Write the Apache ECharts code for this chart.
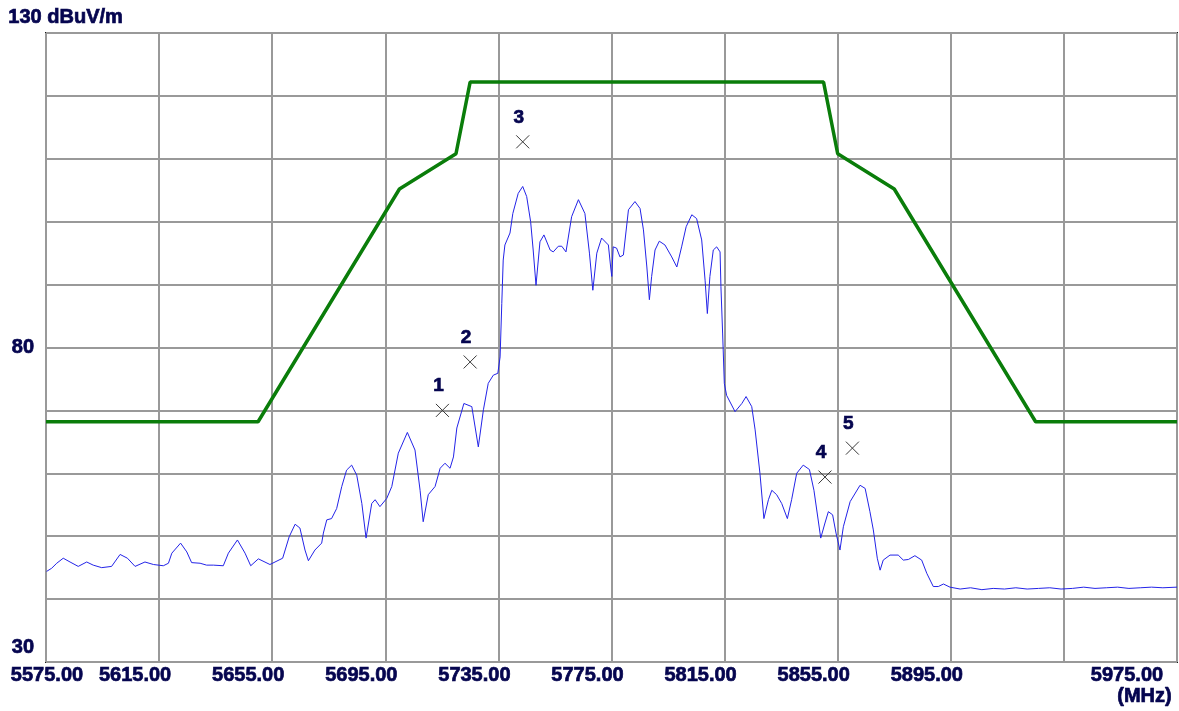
<!DOCTYPE html>
<html>
<head>
<meta charset="utf-8">
<script src="https://cdn.jsdelivr.net/npm/echarts@6/dist/echarts.min.js"></script>
<style>
html,body{margin:0;padding:0;background:#fff;}
#chart{width:1179px;height:711px;}
</style>
</head>
<body>
<div id="chart"></div>
<script>
// ---- data ----
var startMHz = 5575;
var endMHz = 5975;
var stepMHz = 40;
var yMin = 30, yMax = 130, yStep = 10;
var yTickLabels = [30, 80];
var yUnitLabel = '130 dBuV/m';
var xUnitLabel = '(MHz)';

var traceFreq = [5575.2,5577.0,5578.8,5581.1,5583.5,5586.4,5589.4,5591.7,5594.7,5598.2,5601.2,5603.8,5606.5,5610.0,5613.0,5616.5,5618.3,5619.5,5622.6,5624.8,5626.5,5629.5,5631.8,5634.2,5637.7,5639.5,5642.7,5645.4,5647.4,5650.1,5654.2,5656.0,5658.7,5661.0,5663.1,5664.8,5666.6,5667.8,5670.1,5672.5,5673.1,5674.3,5676.0,5677.8,5679.6,5681.3,5683.1,5684.9,5686.7,5688.2,5690.2,5691.4,5693.1,5695.5,5697.3,5699.6,5702.8,5705.5,5707.3,5708.4,5710.2,5712.6,5714.4,5716.1,5717.9,5719.1,5720.3,5722.8,5725.6,5727.9,5729.7,5731.4,5733.2,5734.8,5735.6,5736.2,5736.7,5737.3,5739.1,5740.1,5742.0,5743.6,5745.0,5746.4,5747.3,5748.3,5749.7,5751.1,5753.3,5754.4,5756.2,5757.4,5758.9,5760.9,5763.3,5765.6,5767.2,5768.4,5769.8,5771.5,5773.9,5774.7,5775.1,5775.6,5776.8,5778.0,5779.2,5781.0,5783.3,5785.1,5786.3,5787.5,5788.4,5789.2,5790.4,5791.9,5793.9,5796.3,5798.1,5799.8,5801.4,5803.4,5805.1,5806.9,5808.1,5808.9,5809.8,5811.0,5812.2,5813.4,5813.7,5814.3,5814.9,5815.7,5818.7,5821.1,5822.6,5824.6,5825.8,5827.5,5828.9,5830.5,5831.7,5833.4,5835.2,5837.2,5838.7,5840.5,5842.8,5845.0,5846.6,5849.0,5850.5,5851.7,5853.2,5854.4,5855.8,5857.0,5859.4,5862.9,5864.7,5866.4,5867.6,5868.6,5869.0,5870.0,5871.1,5873.5,5876.4,5878.2,5880.0,5882.3,5884.7,5886.5,5888.8,5890.6,5892.4,5894.7,5898.3,5902,5906,5910,5914,5918,5922,5926,5930,5934,5938,5942,5946,5950,5954,5958,5962,5966,5970,5975];
var traceLevel = [44.4,44.9,45.7,46.5,45.9,45.2,45.9,45.4,45.0,45.2,47.1,46.5,45.2,45.9,45.5,45.3,45.7,47.3,48.9,47.5,45.8,45.7,45.4,45.4,45.3,47.3,49.4,47.3,45.3,46.4,45.5,45.9,46.5,49.9,51.9,51.3,47.8,46.1,47.8,48.9,50.5,52.6,52.8,54.4,57.9,60.5,61.3,59.7,55.2,49.7,55.2,55.8,54.7,56.0,57.9,63.2,66.5,63.7,57.3,52.3,56.6,57.9,60.8,61.6,60.8,62.6,67.2,71.1,70.6,64.2,70.1,74.3,75.6,75.9,78.5,87.0,93.9,96.3,98.2,101.3,104.5,105.6,104.0,100.0,95.5,89.9,96.8,97.9,95.5,95.2,96.1,96.1,95.2,100.8,103.5,101.3,95.0,89.1,95.0,97.4,96.3,92.8,91.3,96.0,95.8,94.4,94.7,101.9,103.2,102.1,98.7,92.8,87.6,91.3,95.5,96.9,96.3,94.4,92.8,96.0,99.2,101.1,100.5,97.1,90.7,85.4,91.3,95.5,96.0,95.2,89.7,82.3,74.3,72.4,69.8,71.1,72.2,70.6,66.9,60.0,52.8,55.8,57.3,56.6,55.2,52.8,55.8,60.0,61.3,60.6,57.3,49.7,52.1,53.9,53.4,50.5,47.8,51.5,55.5,58.1,57.6,53.9,51.0,47.8,46.5,44.6,46.2,47.0,47.0,46.2,46.3,46.9,46.2,44.1,42.0,42.0,42.4,41.9,41.6,41.8,41.5,41.7,41.6,41.8,41.6,41.7,41.8,41.6,41.7,41.9,41.7,41.8,41.9,41.7,41.8,41.9,41.8,41.9];

var limitFreq = [5575,5650,5700,5720,5725,5850,5855,5875,5925,5975];
var limitLevel = [68.2,68.2,105.2,110.8,122.2,122.2,110.8,105.2,68.2,68.2];

var markerNames = ['1','2','3','4','5'];
var markerFreq = [5715.2,5725.0,5743.6,5850.5,5860.2];
var markerLevel = [70.0,77.7,112.7,59.4,64.0];

// ---- build ----
function pairs(fs, vs){ return fs.map(function(f,i){ return [f - startMHz, vs[i]]; }); }
var navy = '#05054f';
var fontFam = '"Liberation Sans", Arial, sans-serif';
function txt(size, extra){
  var o = {color: navy, fontFamily: fontFam, fontWeight: 'bold', fontSize: size, textBorderColor: navy, textBorderWidth: 0.7};
  if (extra) for (var k in extra) o[k] = extra[k];
  return o;
}

var chart = echarts.init(document.getElementById('chart'), null, {renderer:'canvas'});
chart.setOption({
  animation: false,
  backgroundColor: '#fff',
  grid: {left: 46, right: 2, top: 33, bottom: 49, show: true, borderColor: '#1a1a1a', borderWidth: 2, containLabel: false, outerBoundsMode: 'none'},
  xAxis: {
    type: 'value', min: 0, max: endMHz - startMHz, interval: stepMHz,
    axisLine: {show: false}, axisTick: {show: false},
    splitLine: {show: true, lineStyle: {color: '#999', width: 2}},
    axisLabel: Object.assign(txt(20), {
      interval: 0, margin: 3, hideOverlap: false, showMinLabel: true, showMaxLabel: true,
      formatter: function(v){
        var f = v + startMHz;
        var s = f.toFixed(2);
        if (v === 0) return '{a|' + s + '}';
        if (f === endMHz) return '{c|' + s + '}';
        if (f === endMHz - stepMHz) return '';
        return '{b|' + s + '}';
      },
      rich: {
        a: txt(20, {padding: [0,0,0,2]}),
        b: txt(20, {padding: [0,48,0,0]}),
        c: txt(20, {padding: [0,100,0,0]})
      }
    })
  },
  yAxis: {
    type: 'value', min: yMin, max: yMax, interval: yStep,
    axisLine: {show: false}, axisTick: {show: false},
    splitLine: {show: true, lineStyle: {color: '#999', width: 2}},
    axisLabel: Object.assign(txt(20), {
      margin: 12,
      formatter: function(v){
        if (yTickLabels.indexOf(v) < 0) return '';
        if (v === yMin) return '{lo|' + v + '}';
        return '{n|' + v + '}';
      },
      rich: {
        n: txt(20),
        lo: txt(20, {padding: [0,0,30,0]})
      }
    })
  },
  graphic: [
    {type: 'text', left: 8, top: 7, style: {text: yUnitLabel, fill: navy, stroke: navy, lineWidth: 0.7, font: 'bold 20px ' + fontFam}},
    {type: 'text', right: 7, top: 686, style: {text: xUnitLabel, fill: navy, stroke: navy, lineWidth: 0.7, font: 'bold 20px ' + fontFam}}
  ],
  series: [
    {type: 'line', data: pairs(limitFreq, limitLevel), showSymbol: false, lineStyle: {color: '#0a7d0a', width: 3.5}, z: 3},
    {type: 'line', data: pairs(traceFreq, traceLevel), showSymbol: false, lineStyle: {color: '#2323e8', width: 1}, z: 4},
    {type: 'scatter', data: markerFreq.map(function(f,i){ return {value: [f - startMHz, markerLevel[i]], name: markerNames[i]}; }),
     symbol: 'path://M0,0L10,10M10,0L0,10', symbolSize: 13,
     itemStyle: {color: 'rgba(0,0,0,0)', borderColor: '#3a3a3a', borderWidth: 1, opacity: 1},
     label: {show: true, position: 'top', distance: 8, offset: [-4, 0],
       formatter: function(p){ return '{m|' + p.name + '}'; },
       rich: {m: txt(19)}},
     emphasis: {disabled: true},
     z: 5}
  ]
});
</script>
</body>
</html>
